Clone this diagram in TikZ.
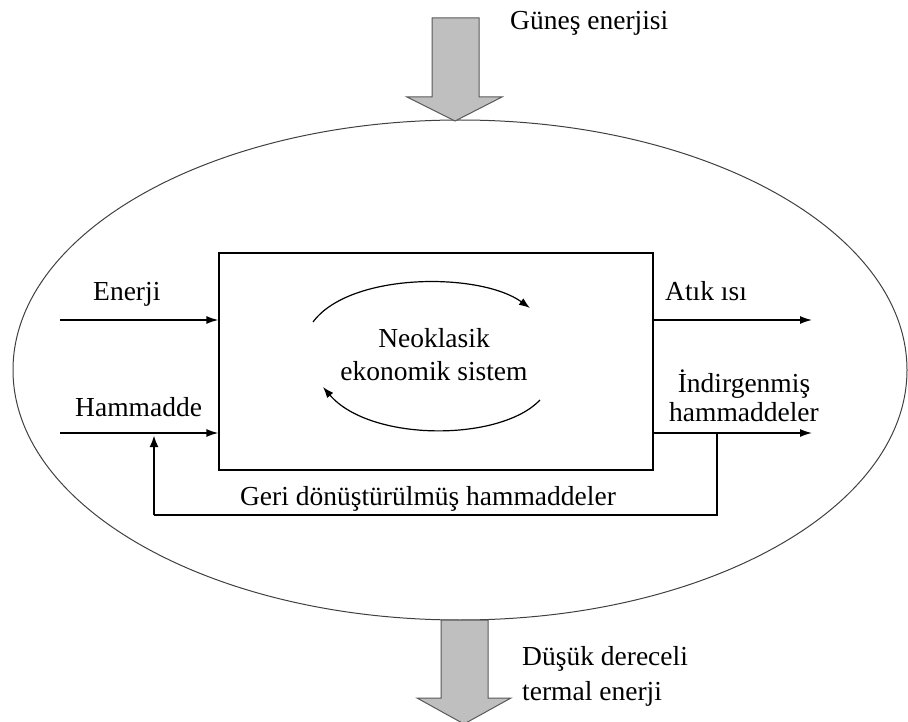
\documentclass[tikz,border=0pt]{standalone}
\usepackage{fontspec}
\setmainfont{Liberation Serif}
\usetikzlibrary{shapes.geometric,arrows.meta}
\begin{document}
\begin{tikzpicture}[x=1pt,y=-1pt,
  lbl/.style={inner sep=0pt, font=\fontsize{27.5}{33}\selectfont},
  arr/.style={line width=1.4pt, -{Latex[length=12pt,width=8pt]}},
  curv/.style={line width=1.2pt, -{Latex[length=11pt,width=8pt]}},
  back/.style={line width=2.4pt},
  bigarrow/.style={fill=black!25, draw=black!65, line width=1pt, line join=miter}]
\useasboundingbox (0,0) rectangle (908,722);
% environment
\node[ellipse, draw=black!75, line width=1pt, minimum width=894pt, minimum height=500pt, inner sep=0pt] (env) at (460,370) {};
% system box
\node[draw, line width=1.3pt, minimum width=434pt, minimum height=217pt, inner sep=0pt] (sys) at (436,361.5) {};
% big arrows
\draw[bigarrow] (432,18) -- (479,18) -- (479,97) -- (502,97) -- (455,121) -- (407,97) -- (432,97) -- cycle;
\draw[bigarrow] (441,620) -- (488,620) -- (488,698) -- (511,698) -- (464,724) -- (417,698) -- (441,698) -- cycle;
% labels
\node[lbl, anchor=base west] (sun) at (510,30) {Güneş enerjisi};
\node[lbl, anchor=base west] (en) at (93,300) {Enerji};
\node[lbl, anchor=base west] (ham) at (75,416) {Hammadde};
\node[lbl, anchor=base west] (atik) at (665,300) {Atık ısı};
\node[lbl, anchor=base] (ind1) at (744,392) {İndirgenmiş};
\node[lbl, anchor=base] (ind2) at (744,421) {hammaddeler};
\node[lbl, anchor=base] (neo1) at (434,347) {Neoklasik};
\node[lbl, anchor=base] (neo2) at (434,380) {ekonomik sistem};
\node[lbl, anchor=base] (geri) at (428,505) {Geri dönüştürülmüş hammaddeler};
\node[lbl, anchor=base west] (dus1) at (522,665) {Düşük dereceli};
\node[lbl, anchor=base west] (dus2) at (522,700) {termal enerji};
% flows
\coordinate (ein) at (60,320);
\coordinate (hin) at (60,433);
\coordinate (aout) at (812,320);
\coordinate (iout) at (812,433);
\coordinate (split) at (717,433);
\coordinate (join) at (154,435);
\coordinate (low) at (154,515);
\draw[arr] (ein) -- (ein -| sys.west);
\draw[arr] (hin) -- (hin -| sys.west);
\draw[arr] (aout -| sys.east) -- (aout);
\draw[arr] (iout -| sys.east) -- (iout);
\draw[back] (split) |- (low);
\draw[back, -{Latex[length=12pt,width=9pt]}] (low) -- (join);
% cycle arrows
\coordinate (c1) at (313,322);
\coordinate (c2) at (530,308);
\coordinate (c3) at (540,400);
\coordinate (c4) at (323,387);
\draw[curv] (c1) .. controls (350,272) and (480,272) .. (c2);
\draw[curv] (c3) .. controls (500,442) and (370,442) .. (c4);
\end{tikzpicture}
\end{document}
